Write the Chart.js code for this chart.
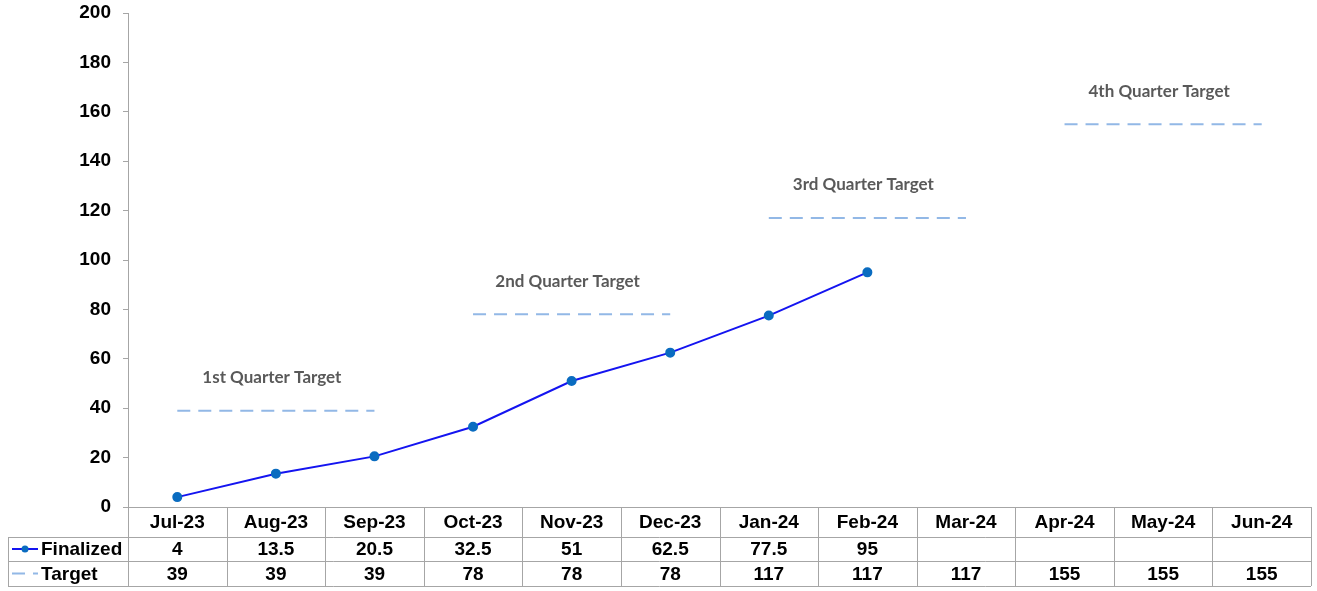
<!DOCTYPE html>
<html>
<head>
<meta charset="utf-8">
<script src="https://cdn.jsdelivr.net/npm/chart.js@4"></script>
<style>
  html, body { margin: 0; padding: 0; background: #fff; }
  #wrap { width: 1317px; height: 591px; position: relative; }
</style>
</head>
<body>
<div id="wrap"><canvas id="chart"></canvas></div>
<script>
// Monthly progress vs. quarterly targets, with a data table under the axis.
const months = ["Jul-23", "Aug-23", "Sep-23", "Oct-23", "Nov-23", "Dec-23",
                "Jan-24", "Feb-24", "Mar-24", "Apr-24", "May-24", "Jun-24"];
const finalized = [4, 13.5, 20.5, 32.5, 51, 62.5, 77.5, 95, null, null, null, null];
const target = [39, 39, 39, 78, 78, 78, 117, 117, 117, 155, 155, 155];
const quarterLabels = ["1st Quarter Target", "2nd Quarter Target", "3rd Quarter Target", "4th Quarter Target"];
const yTicks = [0, 20, 40, 60, 80, 100, 120, 140, 160, 180, 200];

const BLUE = "#1414f0";
const DOT = "#0a6cc0";
const TARGET_COLOR = "#92b8e6";
const GRID = "#a6a6a6";
const FONT = "'Liberation Sans', Arial, sans-serif";

// Draws quarter captions and the data table below the plot.
const tablePlugin = {
    id: "dataTable",
    afterDraw(chart) {
        const ctx = chart.ctx;
        const x = chart.scales.x;
        const y = chart.scales.y;
        const area = chart.chartArea;
        const step = x.getPixelForValue(1) - x.getPixelForValue(0);

        // quarter captions
        ctx.save();
        ctx.font = "bold 17px Lato, 'Open Sans', sans-serif";
        ctx.fillStyle = "#595959";
        ctx.textAlign = "center";
        ctx.textBaseline = "middle";
        quarterLabels.forEach((txt, q) => {
            const a = x.getPixelForValue(q * 3);
            const b = x.getPixelForValue(q * 3 + 2);
            const py = y.getPixelForValue(target[q * 3]) - 33;
            ctx.fillText(txt, (a + b) / 2 - 4, py);
        });
        ctx.restore();

        // table grid
        const top = area.bottom;
        const r1 = top + 30, r2 = r1 + 24, r3 = r2 + 25;
        const left = 8;
        ctx.save();
        ctx.strokeStyle = GRID;
        ctx.lineWidth = 1;
        ctx.beginPath();
        for (let i = 0; i <= months.length; i++) {
            const px = Math.round(x.getPixelForValue(i) - step / 2) + 0.5;
            ctx.moveTo(px, top);
            ctx.lineTo(px, r3);
        }
        [r1, r2, r3].forEach(ry => {
            ctx.moveTo(left, Math.round(ry) + 0.5);
            ctx.lineTo(area.right, Math.round(ry) + 0.5);
        });
        ctx.moveTo(left + 0.5, r1);
        ctx.lineTo(left + 0.5, r3);
        ctx.stroke();

        // cells
        ctx.fillStyle = "#000";
        ctx.font = "bold 19px " + FONT;
        ctx.textAlign = "center";
        ctx.textBaseline = "middle";
        months.forEach((m, i) => {
            const cx = x.getPixelForValue(i);
            ctx.fillText(m, cx, (top + r1) / 2 + 1);
            if (finalized[i] !== null) ctx.fillText(String(finalized[i]), cx, (r1 + r2) / 2 + 1);
            ctx.fillText(String(target[i]), cx, (r2 + r3) / 2 + 1);
        });

        // legend keys
        ctx.textAlign = "left";
        ctx.fillText("Finalized", 41, (r1 + r2) / 2 + 1);
        ctx.fillText("Target", 41, (r2 + r3) / 2 + 1);
        const k1 = (r1 + r2) / 2, k2 = (r2 + r3) / 2;
        ctx.strokeStyle = BLUE;
        ctx.lineWidth = 2;
        ctx.beginPath();
        ctx.moveTo(12, k1);
        ctx.lineTo(38, k1);
        ctx.stroke();
        ctx.fillStyle = DOT;
        ctx.beginPath();
        ctx.arc(25, k1, 3.5, 0, Math.PI * 2);
        ctx.fill();
        ctx.strokeStyle = TARGET_COLOR;
        ctx.setLineDash([13, 8]);
        ctx.beginPath();
        ctx.moveTo(12, k2);
        ctx.lineTo(38, k2);
        ctx.stroke();
        ctx.restore();
    }
};

new Chart(document.getElementById("chart"), {
    type: "line",
    data: {
        labels: months,
        datasets: [
            {
                label: "Finalized",
                data: finalized,
                borderColor: BLUE,
                borderWidth: 2,
                pointRadius: 4,
                pointBackgroundColor: DOT,
                pointBorderColor: DOT,
                spanGaps: false,
                tension: 0,
            },
            {
                label: "Target",
                data: target,
                borderColor: TARGET_COLOR,
                borderWidth: 2,
                borderDash: [13, 8],
                pointRadius: 0,
                tension: 0,
                // only draw flat runs, so each quarter gets its own segment
                segment: {
                    borderColor: c => c.p0.parsed.y === c.p1.parsed.y ? TARGET_COLOR : "transparent",
                },
            },
        ],
    },
    options: {
        responsive: true,
        maintainAspectRatio: false,
        animation: false,
        layout: { padding: { left: 0, right: 2, top: 13, bottom: 84 } },
        plugins: {
            legend: { display: false },
            tooltip: { enabled: false },
        },
        scales: {
            x: {
                offset: true,
                grid: { display: false },
                ticks: { display: false },
                border: { color: GRID, width: 1 },
                afterFit: s => { s.height = 0; s.paddingLeft = 0; s.paddingRight = 0; },
            },
            y: {
                min: 0,
                max: 200,
                afterBuildTicks: s => { s.ticks = yTicks.map(v => ({ value: v })); },
                grid: { drawOnChartArea: false, tickLength: 5, color: GRID },
                border: { color: GRID, width: 1 },
                ticks: {
                    color: "#000",
                    padding: 12,
                    font: { family: FONT, size: 19, weight: "bold" },
                },
                afterFit: s => { s.width = 128; s.paddingTop = 0; s.paddingBottom = 0; },
            },
        },
    },
    plugins: [tablePlugin],
});
</script>
</body>
</html>
